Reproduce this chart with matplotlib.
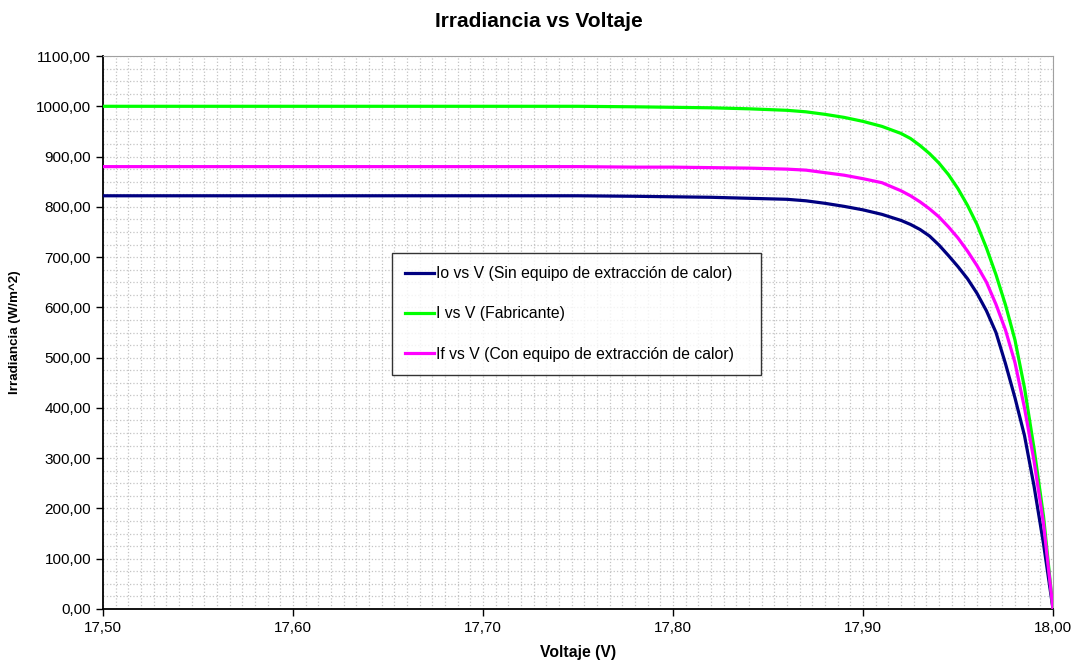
import numpy as np
import matplotlib
matplotlib.use("Agg")
import matplotlib.pyplot as plt
from matplotlib.ticker import MultipleLocator, FuncFormatter

plt.rcParams["font.family"] = ["Liberation Sans", "DejaVu Sans"]

# valores
voltaje = [17.50, 17.60, 17.70, 17.75, 17.78, 17.80, 17.82, 17.84, 17.86, 17.87,
           17.88, 17.89, 17.90, 17.91, 17.92, 17.925, 17.93, 17.935, 17.94, 17.945,
           17.95, 17.955, 17.96, 17.965, 17.97, 17.975, 17.98, 17.985, 17.99, 17.995,
           18.00]
io_sin = [822, 822, 822, 822, 821, 820, 819, 817, 815, 812,
          807, 801, 794, 785, 773, 765, 755, 742, 724, 703,
          681, 657, 628, 593, 550, 488, 420, 345, 245, 130,
          0]
i_fab = [1000, 1000, 1000, 1000, 999, 998, 997, 995, 992, 989,
         984, 978, 970, 960, 946, 936, 922, 906, 887, 864,
         836, 803, 765, 718, 665, 605, 535, 440, 320, 185,
         0]
if_con = [880, 880, 880, 880, 879, 879, 878, 877, 875, 873,
          868, 863, 856, 848, 832, 822, 810, 796, 780, 760,
          738, 712, 683, 650, 606, 555, 490, 400, 295, 170,
          0]

series = [
    (io_sin, "#000080", "Io vs V (Sin equipo de extracción de calor)"),
    (i_fab, "#00ff00", "I vs V (Fabricante)"),
    (if_con, "#ff00ff", "If vs V (Con equipo de extracción de calor)"),
]

fig = plt.figure(figsize=(10.78, 6.71), dpi=100)
ax = fig.add_axes([0.0955, 0.0924, 0.8813, 0.8241])

for y, c, lab in series:
    ax.plot(voltaje, y, color=c, lw=2.3, label=lab, zorder=3, solid_joinstyle="round")

ax.set_xlim(17.5, 18.0)
ax.set_ylim(0, 1100)
ax.xaxis.set_major_locator(MultipleLocator(0.1))
ax.xaxis.set_minor_locator(MultipleLocator(0.1 / 15))
ax.yaxis.set_major_locator(MultipleLocator(100))
ax.yaxis.set_minor_locator(MultipleLocator(25))
fmt = FuncFormatter(lambda v, p: f"{v:.2f}".replace(".", ","))
ax.xaxis.set_major_formatter(fmt)
ax.yaxis.set_major_formatter(fmt)

ax.grid(which="both", color="#c4c4c4", linestyle=":", lw=0.9, zorder=0)
ax.set_axisbelow(True)
ax.tick_params(which="minor", length=0)
ax.tick_params(which="major", direction="out", length=5, width=1, labelsize=11, colors="black")
for s in ["top", "right"]:
    ax.spines[s].set_color("#a0a0a0")
for s in ["left", "bottom"]:
    ax.spines[s].set_color("black")
    ax.spines[s].set_linewidth(1.3)

ax.set_xlabel("Voltaje (V)", fontsize=11.3, fontweight="bold", labelpad=7)
ax.set_ylabel("Irradiancia (W/m^2)", fontsize=9.6, fontweight="bold", labelpad=11)
fig.text(0.5, 0.968, "Irradiancia vs Voltaje", fontsize=15, fontweight="bold",
         ha="center", va="center")

leg = ax.legend(loc="upper left", bbox_to_anchor=(0.3042, 0.6438, 0.388, 0), mode="expand",
                fontsize=11.3, frameon=True, fancybox=False, edgecolor="black",
                handlelength=1.8, handletextpad=0.15, labelspacing=1.6, borderpad=0.85,
                borderaxespad=0)
leg.get_frame().set_linewidth(1.0)

fig.savefig("out.png", dpi=100)
